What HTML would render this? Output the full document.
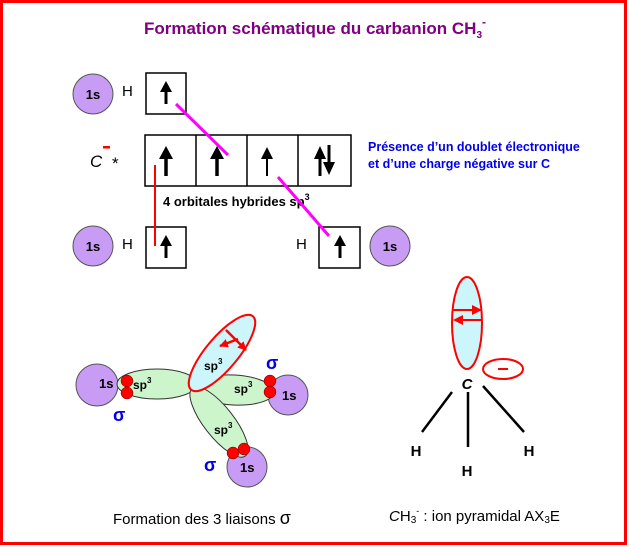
<!DOCTYPE html>
<html><head><meta charset="utf-8"><style>
html,body{margin:0;padding:0;background:#fff;}
svg{display:block;}
text{font-family:"Liberation Sans",sans-serif;}
</style></head><body>
<svg width="629" height="547" viewBox="0 0 629 547" xmlns="http://www.w3.org/2000/svg">
<defs>
<marker id="ah" viewBox="0 0 10 10" refX="9" refY="5" markerWidth="3.5" markerHeight="3.5" markerUnits="strokeWidth" orient="auto"><path d="M0,0L10,5L0,10z" fill="#f00"/></marker>
</defs>
<rect x="1.5" y="1.5" width="624" height="542" fill="#fff" stroke="#f00" stroke-width="3"/>
<text x="315" y="34" text-anchor="middle" font-size="17" font-weight="bold" fill="#800080">Formation schématique du carbanion CH<tspan font-size="10" dy="4">3</tspan><tspan font-size="12" dy="-12">-</tspan></text>

<!-- top row -->
<circle cx="93" cy="94" r="20" fill="#c89cf4" stroke="#555" stroke-width="1"/>
<text x="93" y="99" text-anchor="middle" font-size="13" font-weight="bold">1s</text>
<text x="122" y="96" font-size="15">H</text>
<rect x="146" y="73" width="40" height="41" fill="#fff" stroke="#000" stroke-width="1.5"/>
<path d="M166,104V90" stroke="#000" stroke-width="3"/><path d="M160,92L166,81L172,92z"/>

<!-- C row -->
<text x="90" y="167" font-size="17" font-style="italic">C</text>
<rect x="103" y="146" width="7" height="2.5" fill="#f00"/>
<text x="112" y="169" font-size="17">*</text>
<rect x="145" y="135" width="206" height="51" fill="#fff" stroke="#000" stroke-width="1.5"/>
<path d="M196,135V186M247,135V186M298,135V186" stroke="#000" stroke-width="1.5"/>
<path d="M166,176V156" stroke="#000" stroke-width="3.5"/><path d="M159,159L166,146L173,159z"/>
<path d="M217,176V156" stroke="#000" stroke-width="3.5"/><path d="M210,159L217,146L224,159z"/>
<path d="M267,176V156" stroke="#000" stroke-width="2"/><path d="M261,159L267,147L273,159z"/>
<path d="M320,176V156" stroke="#000" stroke-width="3"/><path d="M314,159L320,146L326,159z"/>
<path d="M329,145V164" stroke="#000" stroke-width="3"/><path d="M323,162L329,175L335,162z"/>
<text x="163" y="206" font-size="13" font-weight="bold">4 orbitales hybrides sp<tspan font-size="9" dy="-6">3</tspan></text>
<text x="368" y="151" font-size="12.5" font-weight="bold" fill="#0000ee">Présence d’un doublet électronique</text>
<text x="368" y="168" font-size="12.5" font-weight="bold" fill="#0000ee">et d’une charge négative sur C</text>

<!-- bottom row -->
<circle cx="93" cy="246" r="20" fill="#c89cf4" stroke="#555" stroke-width="1"/>
<text x="93" y="251" text-anchor="middle" font-size="13" font-weight="bold">1s</text>
<text x="122" y="249" font-size="15">H</text>
<rect x="146" y="227" width="40" height="41" fill="#fff" stroke="#000" stroke-width="1.5"/>
<path d="M166,258V244" stroke="#000" stroke-width="3"/><path d="M160,246L166,235L172,246z"/>
<text x="296" y="249" font-size="15">H</text>
<rect x="319" y="227" width="41" height="41" fill="#fff" stroke="#000" stroke-width="1.5"/>
<path d="M340,258V244" stroke="#000" stroke-width="3"/><path d="M334,246L340,235L346,246z"/>
<circle cx="390" cy="246" r="20" fill="#c89cf4" stroke="#555" stroke-width="1"/>
<text x="390" y="251" text-anchor="middle" font-size="13" font-weight="bold">1s</text>

<path d="M176,104L228,155" stroke="#f0f" stroke-width="3"/>
<path d="M278,177L329,236" stroke="#f0f" stroke-width="3"/>
<path d="M155,165V246" stroke="#f00" stroke-width="2"/>

<!-- sigma bonds diagram -->
<circle cx="97" cy="385" r="21" fill="#c89cf4" stroke="#555"/>
<circle cx="288" cy="395" r="20" fill="#c89cf4" stroke="#555"/>
<circle cx="247" cy="467" r="20" fill="#c89cf4" stroke="#555"/>
<ellipse cx="157" cy="384" rx="40" ry="15" fill="#ccf5cc" stroke="#333"/>
<ellipse cx="234" cy="390" rx="40" ry="15" transform="rotate(3 234 390)" fill="#ccf5cc" stroke="#333"/>
<ellipse cx="219" cy="422" rx="43" ry="15" transform="rotate(52 219 422)" fill="#ccf5cc" stroke="#333"/>
<ellipse cx="222" cy="353" rx="48" ry="16" transform="rotate(-50 222 353)" fill="#ccf6fc" stroke="#f00" stroke-width="2"/>
<path d="M226,330L246,350" stroke="#f00" stroke-width="2.5" marker-end="url(#ah)"/>
<path d="M238,339L220,346" stroke="#f00" stroke-width="2.5" marker-end="url(#ah)"/>
<text x="99" y="388" font-size="13" font-weight="bold">1s</text>
<text x="282" y="400" font-size="13" font-weight="bold">1s</text>
<text x="240" y="472" font-size="13" font-weight="bold">1s</text>
<text x="133" y="389" font-size="12" font-weight="bold">sp<tspan font-size="8" dy="-6">3</tspan></text>
<text x="234" y="393" font-size="12" font-weight="bold">sp<tspan font-size="8" dy="-6">3</tspan></text>
<text x="214" y="434" font-size="12" font-weight="bold">sp<tspan font-size="8" dy="-6">3</tspan></text>
<text x="204" y="370" font-size="12" font-weight="bold">sp<tspan font-size="8" dy="-6">3</tspan></text>
<circle cx="127" cy="381" r="6" fill="#f00" stroke="#600" stroke-width="0.5"/>
<circle cx="127" cy="393" r="6" fill="#f00" stroke="#600" stroke-width="0.5"/>
<circle cx="270" cy="381" r="6" fill="#f00" stroke="#600" stroke-width="0.5"/>
<circle cx="270" cy="392" r="6" fill="#f00" stroke="#600" stroke-width="0.5"/>
<circle cx="233" cy="453" r="6" fill="#f00" stroke="#600" stroke-width="0.5"/>
<circle cx="244" cy="449" r="6" fill="#f00" stroke="#600" stroke-width="0.5"/>
<text x="113" y="421" font-size="18" font-weight="bold" fill="#0000ee">σ</text>
<text x="266" y="369" font-size="18" font-weight="bold" fill="#0000ee">σ</text>
<text x="204" y="471" font-size="18" font-weight="bold" fill="#0000ee">σ</text>
<text x="113" y="524" font-size="15">Formation des 3 liaisons <tspan font-size="18">σ</tspan></text>

<!-- pyramidal -->
<ellipse cx="467" cy="323" rx="15" ry="46" fill="#ccf6fc" stroke="#f00" stroke-width="2"/>
<path d="M453,310H478" stroke="#f00" stroke-width="2"/><path d="M472,305L482,310L472,315z" fill="#f00"/>
<path d="M482,320H460" stroke="#f00" stroke-width="2"/><path d="M463,315L453,320L463,325z" fill="#f00"/>
<ellipse cx="503" cy="369" rx="20" ry="10" fill="#fff" stroke="#f00" stroke-width="2"/>
<path d="M498,369H508" stroke="#f00" stroke-width="2"/>
<text x="467" y="389" text-anchor="middle" font-size="15" font-weight="bold" font-style="italic">C</text>
<path d="M452,392L422,432M468,392V447M483,386L524,432" stroke="#000" stroke-width="2.5"/>
<text x="416" y="456" text-anchor="middle" font-size="15" font-weight="bold">H</text>
<text x="467" y="476" text-anchor="middle" font-size="15" font-weight="bold">H</text>
<text x="529" y="456" text-anchor="middle" font-size="15" font-weight="bold">H</text>
<text x="389" y="521" font-size="15"><tspan font-style="italic">C</tspan>H<tspan font-size="10" dy="2">3</tspan><tspan font-size="9" dy="-9">-</tspan><tspan dy="7"> : ion pyramidal AX</tspan><tspan font-size="10" dy="2">3</tspan><tspan dy="-2">E</tspan></text>
</svg>
</body></html>
